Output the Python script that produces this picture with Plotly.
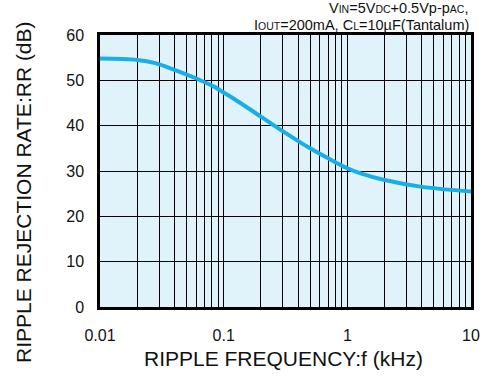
import plotly.graph_objects as go

# ripple rejection curve
freq_khz = [0.01, 0.02, 0.028, 0.04, 0.06, 0.085, 0.1, 0.12, 0.2, 0.3, 0.5, 0.7, 1, 1.3, 2, 4, 10]
rr_db = [54.8, 54.5, 53.8, 52.3, 50.4, 48.5, 47.3, 46.0, 42.0, 38.8, 35.0, 32.8, 30.6, 29.4, 28.0, 26.5, 25.5]

x_ticks = [0.01, 0.1, 1, 10]
x_labels = ["0.01", "0.1", "1", "10"]
y_ticks = [0, 10, 20, 30, 40, 50, 60]
minor_x = [m * d for d in (0.01, 0.1, 1) for m in range(2, 10)]

FONT = "Liberation Sans, Arial, sans-serif"

fig = go.Figure()
fig.add_trace(go.Scatter(
    x=freq_khz, y=rr_db, mode="lines",
    line=dict(color="#18afe9", width=4, shape="spline", smoothing=1.0),
    hoverinfo="skip",
))

fig.update_layout(
    width=484, height=378,
    margin=dict(l=100, r=13, t=35, b=71),
    paper_bgcolor="white",
    plot_bgcolor="#e0f2fa",
    font=dict(family=FONT, color="#111", size=16),
    showlegend=False,
)

fig.update_xaxes(
    type="log", range=[-2, 1], automargin=False,
    tickvals=x_ticks, ticktext=x_labels,
    showgrid=True, gridcolor="black", gridwidth=1.3,
    minor=dict(tickvals=minor_x, showgrid=True, gridcolor="black", gridwidth=1.3, ticks=""),
    ticks="outside", ticklen=12, tickcolor="rgba(0,0,0,0)",
    showline=True, linecolor="black", linewidth=2.5, mirror=True,
    tickfont=dict(size=16),
)
fig.update_yaxes(
    range=[0, 60], tickvals=y_ticks, automargin=False,
    showgrid=True, gridcolor="black", gridwidth=1.3,
    ticks="outside", ticklen=10, tickcolor="rgba(0,0,0,0)",
    showline=True, linecolor="black", linewidth=2.5, mirror=True,
    zeroline=False,
    tickfont=dict(size=16),
)

# axis titles
fig.add_annotation(text="RIPPLE FREQUENCY:f (kHz)", xref="paper", yref="paper",
                   x=0.495, y=0, yshift=-51, xanchor="center", yanchor="middle",
                   showarrow=False, font=dict(size=21, family=FONT))
fig.add_annotation(text="RIPPLE REJECTION RATE:RR (dB)", xref="paper", yref="paper",
                   x=0, y=0.423, xshift=-76, xanchor="center", yanchor="middle",
                   textangle=-90, showarrow=False, font=dict(size=21, family=FONT))

# test conditions
s = "<span style='font-size:10.5px'>"
line1 = f"V{s}IN</span>=5V{s}DC</span>+0.5Vp-p{s}AC</span>,"
line2 = f"I{s}OUT</span>=200mA, C{s}L</span>=10µF(Tantalum)"
fig.add_annotation(text=line1, xref="paper", yref="paper", x=0.997, y=1.0,
                   yshift=27, xanchor="right", yanchor="middle",
                   showarrow=False, font=dict(size=14.5, family=FONT))
fig.add_annotation(text=line2, xref="paper", yref="paper", x=1.0, y=1.0,
                   yshift=10, xanchor="right", yanchor="middle",
                   showarrow=False, font=dict(size=14.5, family=FONT))

fig.write_html("out.html", config={"displayModeBar": False},
               post_script="document.body.style.margin='0';")
